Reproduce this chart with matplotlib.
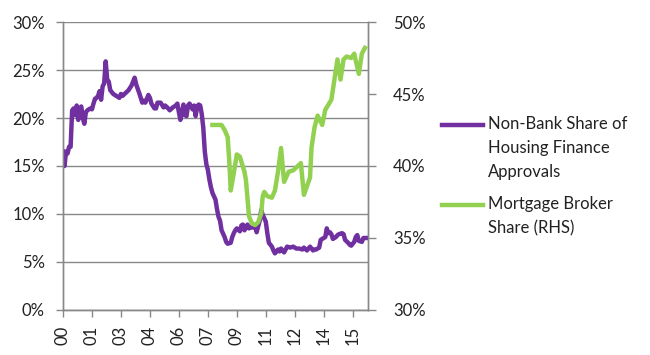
import matplotlib
matplotlib.use('Agg')
import matplotlib.pyplot as plt
from matplotlib.lines import Line2D
from matplotlib.ticker import FuncFormatter

plt.rcParams['font.family'] = ['Lato', 'DejaVu Sans']

# months since Jan 2000
nonbank_month = [0, 1, 2, 3, 4, 5, 6, 7, 8, 9, 10, 11, 12, 13, 14, 15, 16, 17, 18, 19,
                 20, 21, 22, 23, 24, 25, 26, 27, 28, 29, 30, 31, 33, 35, 37, 38, 39, 41, 43, 45,
                 47, 48, 50, 52, 53, 54, 56, 57, 58, 60, 61, 62, 64, 66, 67, 69, 70, 72, 74, 75,
                 76, 77, 79, 80, 81, 82, 83, 85, 86, 87, 88, 89, 90, 91, 92, 93, 94, 95, 96, 97,
                 98, 100, 101, 102, 103, 104, 106, 107, 108, 110, 111, 112, 113, 114, 116, 117, 118, 119, 121, 122,
                 123, 125, 126, 127, 129, 130, 131, 133, 134, 135, 137, 138, 139, 141, 142, 143, 145, 146, 147, 149,
                 151, 153, 155, 157, 158, 160, 161, 162, 164, 165, 166, 168, 169, 170, 172, 173, 174, 175, 176, 177,
                 179, 180, 181, 183, 184, 185, 187, 188, 189, 191, 192, 193, 194, 196, 197, 198, 200]
nonbank_share = [16.5, 15.0, 16.5, 16.3, 17.0, 17.0, 20.8, 21.0, 20.3, 21.3, 19.8, 21.0, 21.2, 20.0, 19.4, 20.6, 20.8, 20.9, 21.0, 20.9,
                 21.5, 22.0, 22.1, 22.3, 22.8, 21.9, 23.3, 23.6, 25.9, 24.0, 23.8, 22.9, 22.5, 22.3, 22.1, 22.5, 22.3, 22.6, 22.9, 23.4,
                 24.2, 23.5, 22.6, 21.6, 21.8, 21.6, 22.4, 22.1, 21.5, 21.0, 21.0, 21.6, 21.6, 21.1, 21.3, 21.0, 20.8, 21.1, 21.3, 21.5,
                 20.6, 19.8, 21.4, 20.3, 20.2, 21.3, 21.5, 20.9, 21.3, 20.2, 21.2, 21.4, 21.3, 20.4, 19.0, 16.5, 15.2, 14.6, 13.6, 12.8,
                 12.2, 11.5, 10.5, 9.7, 9.3, 8.3, 7.6, 7.1, 6.9, 7.0, 7.6, 8.0, 8.3, 8.5, 8.2, 8.8, 8.9, 8.3, 8.9, 8.5,
                 8.6, 8.6, 8.8, 8.1, 9.3, 10.4, 9.9, 9.2, 8.0, 7.0, 6.6, 6.2, 5.9, 6.3, 6.1, 6.4, 6.0, 6.3, 6.6, 6.5,
                 6.6, 6.4, 6.4, 6.3, 6.5, 6.2, 6.4, 6.6, 6.2, 6.3, 6.3, 6.5, 7.3, 7.4, 7.6, 8.5, 8.0, 8.1, 7.9, 7.4,
                 7.6, 7.8, 7.9, 8.0, 7.9, 7.3, 7.0, 6.8, 6.7, 7.1, 7.6, 7.8, 7.2, 7.1, 7.5, 7.5, 7.5]

broker_month = [98, 104, 106, 108, 109, 110, 112, 114, 116, 119, 120, 122, 124, 126, 128, 130, 131, 132, 134, 137,
                139, 141, 143, 145, 148, 151, 154, 156, 158, 160, 162, 163, 165, 167, 170, 172, 176, 178, 180, 182,
                184, 186, 189, 191, 194, 196, 198]
broker_share = [42.85, 42.85, 42.5, 42.0, 40.4, 38.3, 39.5, 40.8, 40.65, 39.6, 39.0, 36.5, 36.0, 35.9, 36.1, 36.7, 37.9, 38.2, 37.9, 37.8,
                38.3, 39.6, 41.25, 38.9, 39.6, 39.7, 40.0, 40.2, 38.0, 38.6, 39.2, 41.3, 42.7, 43.5, 42.85, 43.9, 44.6, 46.0, 47.4, 46.0,
                47.4, 47.6, 47.5, 47.8, 46.4, 47.8, 48.2]

tick_months = list(range(0, 191, 19))
tick_labels = ['%02d' % ((m // 12) % 100) for m in tick_months]

purple = '#7030A0'
green = '#92D050'
grey = '#888888'
fs = 12

fig = plt.figure(figsize=(6.5, 3.55), dpi=100)
ax = fig.add_axes([0.0969, 0.1268, 0.4692, 0.8112])
ax2 = ax.twinx()

ax.plot(nonbank_month, nonbank_share, color=purple, lw=3.2, solid_joinstyle='round', zorder=3)
ax2.plot(broker_month, broker_share, color=green, lw=3.2, solid_joinstyle='round', zorder=3)

ax.set_xlim(0, 200)
ax.set_ylim(0, 30)
ax2.set_ylim(30, 50)
ax.set_yticks(range(0, 31, 5))
ax2.set_yticks(range(30, 51, 5))
pct = FuncFormatter(lambda v, p: '%d%%' % v)
ax.yaxis.set_major_formatter(pct)
ax2.yaxis.set_major_formatter(pct)
ax.set_xticks(tick_months)
ax.set_xticklabels(tick_labels, rotation=90)

ax.yaxis.grid(True, color=grey, lw=1)
ax.set_axisbelow(True)
for a in (ax, ax2):
    a.spines['top'].set_visible(False)
    for s in ('left', 'right', 'bottom'):
        a.spines[s].set_color(grey)
        a.spines[s].set_linewidth(1)
    a.tick_params(colors=grey, labelcolor='#222222', labelsize=fs, length=5, width=1)
ax.tick_params(axis='y', pad=8)
ax2.tick_params(axis='y', pad=12, length=6)
ax.tick_params(axis='x', pad=6)

# legend drawn at the right of the chart
fig.add_artist(Line2D([442 / 650, 483 / 650], [1 - 125 / 355] * 2, color=purple, lw=3.2))
fig.add_artist(Line2D([442 / 650, 483 / 650], [1 - 205 / 355] * 2, color=green, lw=3.2))
fig.text(488 / 650, 1 - 116 / 355, 'Non-Bank Share of\nHousing Finance\nApprovals',
         fontsize=fs, va='top', ha='left', linespacing=1.6, color='#222222')
fig.text(488 / 650, 1 - 196 / 355, 'Mortgage Broker\nShare (RHS)',
         fontsize=fs, va='top', ha='left', linespacing=1.6, color='#222222')

fig.savefig('out.png', dpi=100)
